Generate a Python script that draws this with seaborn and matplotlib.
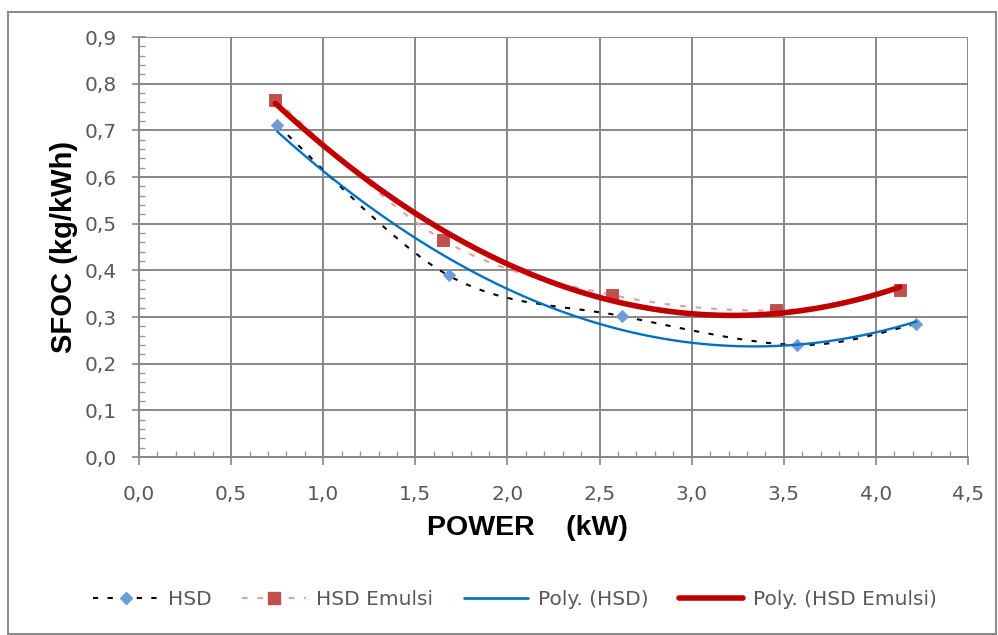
import numpy as np
import pandas as pd
import matplotlib
matplotlib.use('Agg')
import matplotlib.pyplot as plt
import seaborn as sns
from matplotlib.ticker import MultipleLocator, FuncFormatter
from matplotlib.path import Path
from matplotlib.patches import PathPatch
from matplotlib.lines import Line2D

sns.set_style('white')
plt.rcParams['font.family'] = ['DejaVu Sans']

# data
hsd_power = [0.75, 1.68, 2.62, 3.57, 4.22]
hsd_sfoc = [0.711, 0.389, 0.302, 0.240, 0.285]
emulsi_power = [0.74, 1.65, 2.57, 3.46, 4.13]
emulsi_sfoc = [0.766, 0.465, 0.347, 0.314, 0.358]

df = pd.concat([
    pd.DataFrame({'power': hsd_power, 'sfoc': hsd_sfoc, 'series': 'HSD'}),
    pd.DataFrame({'power': emulsi_power, 'sfoc': emulsi_sfoc, 'series': 'HSD Emulsi'}),
])

# 2nd order trendlines like Excel "Poly." series
def poly_trend(x, y, name):
    c = np.polyfit(x, y, 2)
    xs = np.linspace(min(x), max(x), 200)
    return pd.DataFrame({'power': xs, 'sfoc': np.polyval(c, xs), 'series': name})

trend_hsd = poly_trend(hsd_power, hsd_sfoc, 'Poly. (HSD)')
trend_emulsi = poly_trend(emulsi_power, emulsi_sfoc, 'Poly. (HSD Emulsi)')

# Excel style "smoothed line" through the points (bezier path)
def smooth_path(x, y):
    p = np.column_stack([x, y])
    n = len(p)
    verts, codes = [p[0]], [Path.MOVETO]
    for i in range(n - 1):
        p0, p1, p2, p3 = p[max(i - 1, 0)], p[i], p[i + 1], p[min(i + 2, n - 1)]
        verts += [p1 + (p2 - p0) / 6, p2 - (p3 - p1) / 6, p2]
        codes += [Path.CURVE4] * 3
    return Path(verts, codes)

fig = plt.figure(figsize=(9.98, 6.35), dpi=100)
ax = fig.add_axes([0.1393, 0.2803, 0.8307, 0.6614])

# outer chart border
fig.patches.append(plt.Rectangle((8 / 998, 1 / 635), 988 / 998, 622 / 635, transform=fig.transFigure,
                                 fill=False, edgecolor='#8c8c8c', lw=1.5))

hsd_dash = (0, (2.5, 4.5))
ax.add_patch(PathPatch(smooth_path(hsd_power, hsd_sfoc), fill=False, edgecolor='black',
                       lw=1.5, linestyle=hsd_dash, zorder=3))
ax.add_patch(PathPatch(smooth_path(emulsi_power, emulsi_sfoc), fill=False, edgecolor='#e8a0a0',
                       lw=1.6, linestyle=hsd_dash, zorder=3))

sns.scatterplot(data=df[df.series == 'HSD'], x='power', y='sfoc', ax=ax, marker='D', s=40,
                color='#6f9bd6', edgecolor='#6f9bd6', zorder=4, legend=False)
sns.scatterplot(data=df[df.series == 'HSD Emulsi'], x='power', y='sfoc', ax=ax, marker='s', s=70,
                color='#c0504d', edgecolor='#c0504d', zorder=4, legend=False)
sns.lineplot(data=trend_hsd, x='power', y='sfoc', ax=ax, color='#0070c0', lw=1.7, zorder=5)
sns.lineplot(data=trend_emulsi, x='power', y='sfoc', ax=ax, color='#c00000', lw=4.0, zorder=5)

ax.set_xlim(0, 4.5)
ax.set_ylim(0, 0.9)
ax.xaxis.set_major_locator(MultipleLocator(0.5))
ax.xaxis.set_minor_locator(MultipleLocator(0.1))
ax.yaxis.set_major_locator(MultipleLocator(0.1))
ax.yaxis.set_minor_locator(MultipleLocator(0.02))
comma = FuncFormatter(lambda v, p: f'{v:.1f}'.replace('.', ','))
ax.xaxis.set_major_formatter(comma)
ax.yaxis.set_major_formatter(comma)

ax.grid(True, which='major', color='#878787', lw=1.4)
for s in ['top', 'right']:
    ax.spines[s].set_visible(False)
for s in ['left', 'bottom']:
    ax.spines[s].set_color('#878787')
    ax.spines[s].set_linewidth(1.4)
ax.tick_params(axis='y', which='major', direction='inout', length=10, width=1.2,
               color='#878787', labelsize=14.5, labelcolor='#595959', pad=11, left=True)
ax.tick_params(axis='y', which='minor', direction='in', length=4, width=1, color='#9a9a9a', left=True)
ax.tick_params(axis='x', which='major', direction='out', length=6, width=1.2,
               color='#878787', labelsize=14.5, labelcolor='#595959', pad=14, bottom=True)
ax.tick_params(axis='x', which='minor', direction='in', length=4, width=1, color='#9a9a9a', bottom=True)

ax.set_xlabel('POWER    (kW)', fontsize=20.5, fontweight='bold', family=['Liberation Sans', 'DejaVu Sans'],
              color='black')
ax.xaxis.set_label_coords(0.469, -0.137)
ax.set_ylabel('SFOC (kg/kWh)', fontsize=21, fontweight='bold', family=['Liberation Sans', 'DejaVu Sans'],
              color='black', labelpad=5)

handles = [
    Line2D([], [], color='black', lw=1.5, linestyle=hsd_dash, marker='D', markersize=6,
           markerfacecolor='#6f9bd6', markeredgecolor='#6f9bd6'),
    Line2D([], [], color='#e8a0a0', lw=1.6, linestyle=hsd_dash, marker='s', markersize=8,
           markerfacecolor='#c0504d', markeredgecolor='#c0504d'),
    Line2D([], [], color='#0070c0', lw=1.9),
    Line2D([], [], color='#c00000', lw=4.0),
]
labels = ['HSD', 'HSD Emulsi', 'Poly. (HSD)', 'Poly. (HSD Emulsi)']
leg = ax.legend(handles, labels, loc='center', bbox_to_anchor=(0.454, -0.34), ncol=4, frameon=False,
                fontsize=14.5, handlelength=3.2, columnspacing=1.5, handletextpad=0.5)
for t in leg.get_texts():
    t.set_color('#595959')

fig.savefig('out.png', dpi=100)
